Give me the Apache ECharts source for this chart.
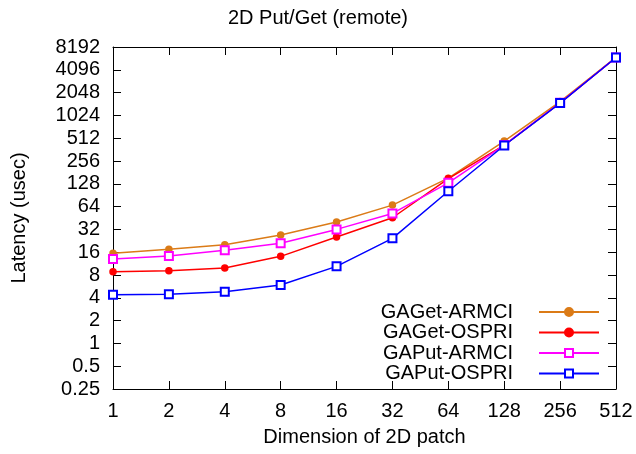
<!DOCTYPE html>
<html>
<head>
<meta charset="utf-8">
<script src="https://cdn.jsdelivr.net/npm/echarts@6/dist/echarts.min.js"></script>
<style>
  html, body { margin: 0; padding: 0; background: #fff; }
  #chart { width: 636px; height: 454px; }
</style>
</head>
<body>
<div id="chart"></div>
<script>
// patch dimension (x axis), latency in usec per series
const categories = ['1', '2', '4', '8', '16', '32', '64', '128', '256', '512']
const gagetArmci = [15.5, 17.5, 20, 27, 40, 67, 152, 470, 1560, 6000]
const gagetOspri = [8.8, 9.1, 9.9, 14.1, 25.4, 45.6, 150, 415, 1500, 5950]
const gaputArmci = [13.0, 14.3, 17, 21, 32, 52, 132, 415, 1500, 5950]
const gaputOspri = [4.4, 4.47, 4.8, 5.9, 10.4, 24.4, 102, 410, 1490, 5950]
const yTicks = [0.25, 0.5, 1, 2, 4, 8, 16, 32, 64, 128, 256, 512, 1024, 2048, 4096, 8192]

const seriesNames = ['GAGet-ARMCI', 'GAGet-OSPRI', 'GAPut-ARMCI', 'GAPut-OSPRI']

const FONT = 'Liberation Sans'
const FS = 20

const chart = echarts.init(document.getElementById('chart'))

function line(name, data, color, symbol, size) {
  return {
    name,
    type: 'line',
    data,
    xAxisIndex: 0,
    yAxisIndex: 0,
    symbol,
    symbolSize: size,
    showSymbol: true,
    animation: false,
    lineStyle: { color, width: 1.5 },
    itemStyle: { color, borderColor: color, borderWidth: 1.5 },
  }
}

const tickStyle = { show: true, inside: true, length: 8, lineStyle: { color: '#000', width: 1 } }

// one legend per row so every sample line ends at the same right edge
const legends = seriesNames.map((name, i) => ({
  data: [name],
  right: 31,
  top: 297 + i * 20.5,
  align: 'right',
  itemWidth: 60,
  itemHeight: 10,
  textStyle: { fontFamily: FONT, fontSize: FS, color: '#000', padding: [0, 21, 0, 0] },
}))

const option = {
  backgroundColor: '#fff',
  animation: false,
  title: {
    text: '2D Put/Get (remote)',
    left: 'center',
    top: 3,
    textStyle: { fontFamily: FONT, fontSize: FS, fontWeight: 'normal', color: '#000' },
  },
  grid: { left: 113, right: 20, top: 47, bottom: 65 },
  legend: legends,
  xAxis: [
    {
      type: 'category',
      data: categories,
      boundaryGap: false,
      name: 'Dimension of 2D patch',
      nameLocation: 'middle',
      nameGap: 38,
      nameTextStyle: { fontFamily: FONT, fontSize: FS, color: '#000' },
      axisLine: { show: true, lineStyle: { color: '#000', width: 1 } },
      axisTick: tickStyle,
      axisLabel: { fontFamily: FONT, fontSize: FS, color: '#000', margin: 12 },
      splitLine: { show: false },
    },
    {
      type: 'category',
      data: categories,
      boundaryGap: false,
      position: 'top',
      axisLine: { show: true, lineStyle: { color: '#000', width: 1 } },
      axisTick: tickStyle,
      axisLabel: { show: false },
      splitLine: { show: false },
    },
  ],
  yAxis: [
    {
      type: 'log',
      logBase: 2,
      min: 0.25,
      max: 8192,
      name: 'Latency (usec)',
      nameLocation: 'middle',
      nameGap: 84,
      nameTextStyle: { fontFamily: FONT, fontSize: FS, color: '#000' },
      axisLine: { show: true, lineStyle: { color: '#000', width: 1 } },
      axisTick: Object.assign({ customValues: yTicks }, tickStyle),
      axisLabel: {
        customValues: yTicks,
        formatter: v => String(v),
        fontFamily: FONT,
        fontSize: FS,
        color: '#000',
        margin: 13,
      },
      splitLine: { show: false },
    },
    {
      type: 'log',
      logBase: 2,
      min: 0.25,
      max: 8192,
      position: 'right',
      axisLine: { show: true, lineStyle: { color: '#000', width: 1 } },
      axisTick: Object.assign({ customValues: yTicks }, tickStyle),
      axisLabel: { show: false },
      splitLine: { show: false },
    },
  ],
  series: [
    line(seriesNames[0], gagetArmci, '#db7b17', 'circle', 6),
    line(seriesNames[1], gagetOspri, '#ff0000', 'circle', 6),
    line(seriesNames[2], gaputArmci, '#ff00ff', 'emptyRect', 8),
    line(seriesNames[3], gaputOspri, '#0000ff', 'emptyRect', 8),
  ],
}

chart.setOption(option)
</script>
</body>
</html>
